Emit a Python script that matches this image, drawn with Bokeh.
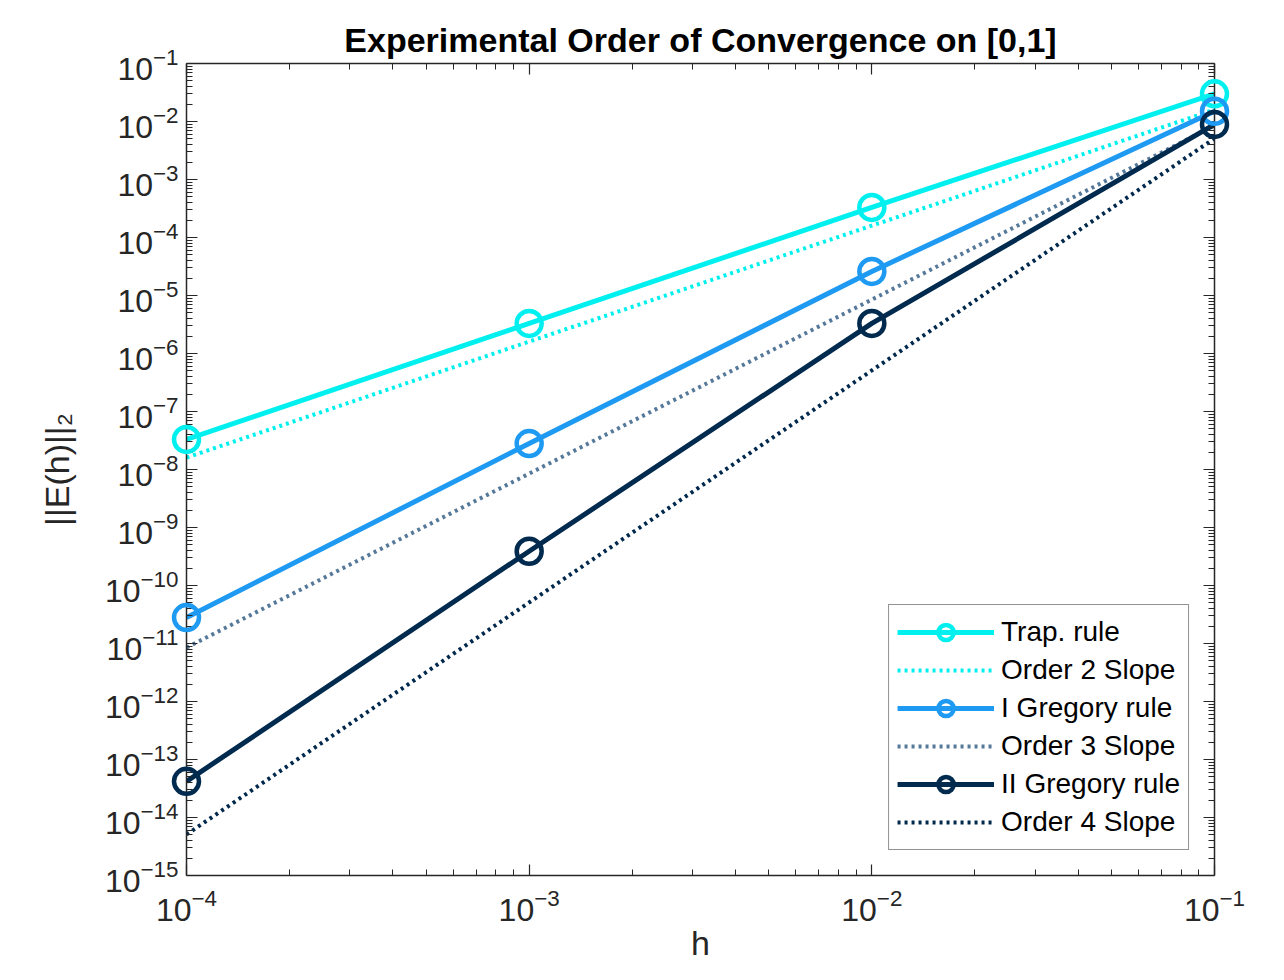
import numpy as np
from bokeh.plotting import figure
from bokeh.models import FixedTicker, LogAxis, Legend, LegendItem, CustomJSTickFormatter, Range1d
from bokeh.embed import file_html
from bokeh.resources import INLINE

# ---- data ----
h = [1e-4, 1e-3, 1e-2, 1e-1]
trap = [3.3e-8, 3.3e-6, 3.3e-4, 3.0e-2]
order2 = [1.6e-8, 1.6e-6, 1.6e-4, 1.6e-2]
greg1 = [2.8e-11, 2.8e-8, 2.6e-5, 1.5e-2]
order3 = [8.5e-12, 8.5e-9, 8.5e-6, 8.5e-3]
greg2 = [4.2e-14, 3.9e-10, 3.3e-6, 8.9e-3]
order4 = [5.1e-15, 5.1e-11, 5.1e-7, 5.1e-3]

x_exps = [-4, -3, -2, -1]
y_exps = list(range(-15, 0))

title = "Experimental Order of Convergence on [0,1]"
xlabel = "h"
ylabel = "||E(h)||\u2082"

c_trap = "#00F0F0"
c_g1 = "#1E9AF2"
c_o3 = "#56799A"
c_g2 = "#002A4E"
c_o4 = "#00284C"
axis_col = "#262626"
FONT = "Liberation Sans"

x_major = [10.0 ** e for e in x_exps]
x_minor = [m * 10.0 ** e for e in x_exps[:-1] for m in range(2, 10)]
y_major = [10.0 ** e for e in y_exps]
y_minor = [m * 10.0 ** e for e in y_exps[:-1] for m in range(2, 10)]

p = figure(width=1268, height=964, x_axis_type="log", y_axis_type="log",
           x_range=Range1d(1e-4, 1e-1), y_range=Range1d(1e-15, 1e-1),
           output_backend="svg", toolbar_location=None,
           min_border_left=186, min_border_right=54, min_border_top=63, min_border_bottom=89)
p.title.text = title
p.title.align = "center"
p.title.text_font = FONT
p.title.text_font_size = "34px"
p.title.text_font_style = "bold"
p.title.text_color = "#000000"
p.title.standoff = 9
p.xgrid.visible = False
p.ygrid.visible = False
p.outline_line_color = None
p.background_fill_color = "white"

xt = FixedTicker(ticks=x_major, minor_ticks=x_minor)
yt = FixedTicker(ticks=y_major, minor_ticks=y_minor)

def style_axis(ax):
    ax.axis_line_color = axis_col
    ax.axis_line_width = 1.5
    ax.major_tick_line_color = axis_col
    ax.minor_tick_line_color = axis_col
    ax.major_tick_line_width = 1.2
    ax.minor_tick_line_width = 1.0
    ax.major_tick_in = 11
    ax.major_tick_out = 0
    ax.minor_tick_in = 6
    ax.minor_tick_out = 0
    ax.major_label_text_font = FONT
    ax.major_label_text_font_size = "32px"
    ax.major_label_text_color = axis_col
    ax.axis_label_text_font = FONT
    ax.axis_label_text_font_size = "34px"
    ax.axis_label_text_font_style = "normal"
    ax.axis_label_text_color = axis_col

p.xaxis.ticker = xt
p.yaxis.ticker = yt
style_axis(p.xaxis[0])
style_axis(p.yaxis[0])
p.xaxis.axis_label = xlabel
p.yaxis.axis_label = ylabel
p.xaxis.major_label_standoff = 13
p.yaxis.major_label_standoff = 8
p.xaxis.axis_label_standoff = 0
p.yaxis.axis_label_standoff = 26

blank = CustomJSTickFormatter(code="return ''")
top = LogAxis(ticker=xt, formatter=blank)
right = LogAxis(ticker=yt, formatter=blank)
style_axis(top)
style_axis(right)
top.major_label_text_font_size = "1px"
right.major_label_text_font_size = "1px"
top.major_label_standoff = 0
right.major_label_standoff = 0
p.add_layout(top, "above")
p.add_layout(right, "right")

LW = 5
MS = 25
DASH = "3 4"

r_trap = p.line(h, trap, line_color=c_trap, line_width=LW)
m_trap = p.scatter(h, trap, marker="circle", size=MS, line_color=c_trap, line_width=4.5, fill_alpha=0, level="overlay")
r_o2 = p.line(h, order2, line_color=c_trap, line_width=4, line_dash=DASH)
r_g1 = p.line(h, greg1, line_color=c_g1, line_width=LW)
m_g1 = p.scatter(h, greg1, marker="circle", size=MS, line_color=c_g1, line_width=4.5, fill_alpha=0, level="overlay")
r_o3 = p.line(h, order3, line_color=c_o3, line_width=4, line_dash=DASH)
r_g2 = p.line(h, greg2, line_color=c_g2, line_width=LW)
m_g2 = p.scatter(h, greg2, marker="circle", size=MS, line_color=c_g2, line_width=4.5, fill_alpha=0, level="overlay")
r_o4 = p.line(h, order4, line_color=c_o4, line_width=4, line_dash=DASH)

legend = Legend(items=[
    LegendItem(label="Trap. rule", renderers=[r_trap, m_trap]),
    LegendItem(label="Order 2 Slope", renderers=[r_o2]),
    LegendItem(label="I Gregory rule", renderers=[r_g1, m_g1]),
    LegendItem(label="Order 3 Slope", renderers=[r_o3]),
    LegendItem(label="II Gregory rule", renderers=[r_g2, m_g2]),
    LegendItem(label="Order 4 Slope", renderers=[r_o4]),
], location="bottom_right")
legend.margin = 25
legend.padding = 8
legend.spacing = 0
legend.glyph_width = 97
legend.glyph_height = 38
legend.label_height = 38
legend.label_standoff = 7
legend.label_text_font = FONT
legend.label_text_font_size = "28px"
legend.label_text_color = "#000000"
legend.border_line_color = axis_col
legend.border_line_width = 1.5
legend.background_fill_alpha = 1.0
p.add_layout(legend, "center")

open("out.html", "w").write(file_html(p, INLINE))
